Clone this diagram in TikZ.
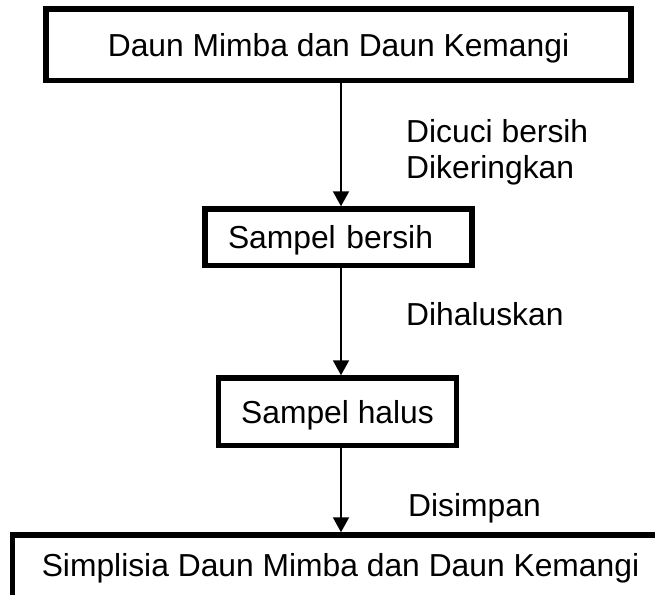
\documentclass[tikz,border=0pt]{standalone}
\usepackage{fontspec}
\setmainfont{Liberation Sans}
\usetikzlibrary{arrows.meta}
\begin{document}
\begin{tikzpicture}[x=1pt,y=-1pt,
  every node/.style={font=\fontsize{31.8}{38}\selectfont},
  box/.style={draw, line width=5.5pt, rectangle, inner sep=0pt,
    text height=22.8pt, text depth=0pt},
  lbl/.style={inner sep=0pt, anchor=base west},
  arr/.style={line width=2pt, -{Triangle[length=15pt,width=16pt]}}]
\useasboundingbox (0,0) rectangle (655,594);
\clip (0,0) rectangle (655,594);
\coordinate (ax) at (341,0);
\node[box, minimum width=585pt, minimum height=71.5pt] (top) at (338.5,44.75) {Daun Mimba dan Daun Kemangi};
\node[box, minimum width=267pt, minimum height=56.5pt, text width=221pt, align=left, inner xsep=23pt] (b2) at (338.5,237.25) {Sampel bersih};
\node[box, minimum width=238pt, minimum height=67.5pt] (b3) at (337.5,411.75) {Sampel halus};
\node[box, minimum width=656pt, minimum height=70pt, text depth=10pt] (b4) at (340.5,570) {Simplisia Daun Mimba dan Daun Kemangi};
\draw[arr] (top.south -| ax) -- (b2.north -| ax);
\draw[arr] (b2.south -| ax) -- (b3.north -| ax);
\draw[arr] (b3.south -| ax) -- (b4.north -| ax);
\node[lbl] (l1) at (406,142) {Dicuci bersih};
\node[lbl] (l2) at (406,178) {Dikeringkan};
\node[lbl] (l3) at (406,325) {Dihaluskan};
\node[lbl] (l4) at (408,516) {Disimpan};
\end{tikzpicture}
\end{document}
